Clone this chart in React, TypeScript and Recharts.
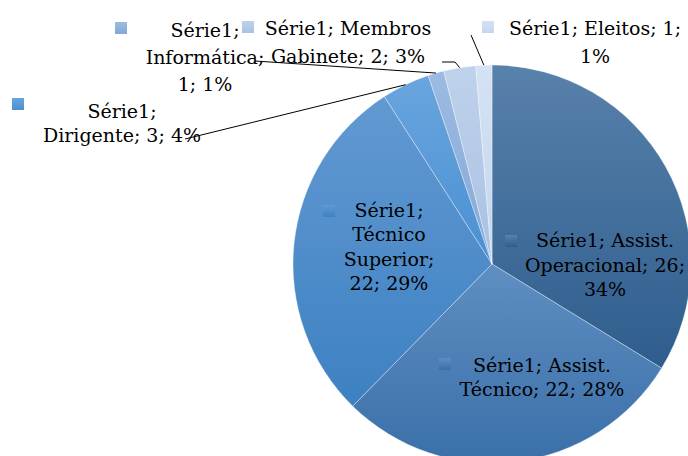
import React from "react";
import { Pie, PieChart, Cell } from "recharts";

const seriesName = "Série1";
const categories = [
  "Assist. Operacional",
  "Assist. Técnico",
  "Técnico Superior",
  "Dirigente",
  "Informática",
  "Membros Gabinete",
  "Eleitos",
];
const values = [26, 22, 22, 3, 1, 2, 1];
const percentLabels = [34, 28, 29, 4, 1, 3, 1]; // as printed on the chart

// gradient per slice: [top, bottom]
const sliceColors: [string, string][] = [
  ["#5881ab", "#2e5d8d"],
  ["#5f8fc2", "#3a6fa8"],
  ["#6299d2", "#3d81c2"],
  ["#69a5de", "#4a90d2"],
  ["#9cbbe2", "#85a8d7"],
  ["#bfd2eb", "#a8c1e3"],
  ["#d5e2f3", "#c4d5ee"],
];

// label placement: centre x, first baseline, line height, words per line,
// legend square (x, y), optional leader start point(s)
type LabelLayout = {
  x: number;
  y: number;
  lh: number;
  split: number[];
  sq: [number, number];
  leader?: [number, number][];
};
const labelLayout: LabelLayout[] = [
  { x: 605, y: 247, lh: 24.5, split: [2, 2, 1], sq: [505, 235] },
  { x: 542, y: 372, lh: 24, split: [2, 3], sq: [439, 358] },
  { x: 389, y: 217, lh: 24.3, split: [1, 1, 1, 2], sq: [323, 205] },
  { x: 122, y: 118, lh: 24, split: [1, 3], sq: [12, 98], leader: [[185, 139]] },
  { x: 205, y: 37, lh: 27, split: [1, 1, 2], sq: [115, 22], leader: [[255, 61]] },
  { x: 348, y: 35, lh: 28, split: [2, 3], sq: [242, 21], leader: [[442, 62], [455, 62]] },
  { x: 595, y: 35, lh: 28, split: [3, 1], sq: [482, 21], leader: [[471, 35]] },
];

const data = categories.map((name, i) => ({ name, value: values[i], pct: percentLabels[i] }));

const RAD = Math.PI / 180;
const FONT = "'DejaVu Serif', Georgia, serif";

const renderLabel = (props: any) => {
  const { cx, cy, midAngle, outerRadius, index } = props;
  const d = data[index];
  const lay = labelLayout[index];
  const words = `${seriesName}; ${d.name}; ${d.value}; ${d.pct}%`.split(" ");
  const lines: string[] = [];
  let w = 0;
  lay.split.forEach((n) => {
    lines.push(words.slice(w, w + n).join(" "));
    w += n;
  });
  const ex = cx + outerRadius * Math.cos(-midAngle * RAD);
  const ey = cy + outerRadius * Math.sin(-midAngle * RAD);
  const pts = lay.leader ? [...lay.leader, [ex, ey]] : null;
  return (
    <g key={`lbl-${index}`}>
      {pts && (
        <polyline
          points={pts.map((p) => p.join(",")).join(" ")}
          fill="none"
          stroke="#000"
          strokeWidth={1}
        />
      )}
      <rect x={lay.sq[0]} y={lay.sq[1]} width={12} height={12} fill={`url(#slice${index})`} />
      <text x={lay.x} y={lay.y} textAnchor="middle" fontFamily={FONT} fontSize={19} fill="#000">
        {lines.map((ln, i) => (
          <tspan key={i} x={lay.x} y={lay.y + i * lay.lh}>
            {ln}
          </tspan>
        ))}
      </text>
    </g>
  );
};

export default function App() {
  return (
    <div style={{ position: "absolute", left: 0, top: 0, width: 688, height: 456, background: "#fff" }}>
      <PieChart width={688} height={456} margin={{ top: 0, right: 0, bottom: 0, left: 0 }}>
        <defs>
          {sliceColors.map(([a, b], i) => (
            <linearGradient key={i} id={`slice${i}`} x1="0" y1="0" x2="0" y2="1">
              <stop offset="0%" stopColor={a} />
              <stop offset="100%" stopColor={b} />
            </linearGradient>
          ))}
        </defs>
        <Pie
          data={data}
          dataKey="value"
          nameKey="name"
          cx={492}
          cy={264}
          outerRadius={199}
          startAngle={90}
          endAngle={-270}
          stroke="rgba(255,255,255,0.45)"
          strokeWidth={0.75}
          label={renderLabel}
          labelLine={false}
          isAnimationActive={false}
        >
          {data.map((_, i) => (
            <Cell key={i} fill={`url(#slice${i})`} />
          ))}
        </Pie>
      </PieChart>
    </div>
  );
}
